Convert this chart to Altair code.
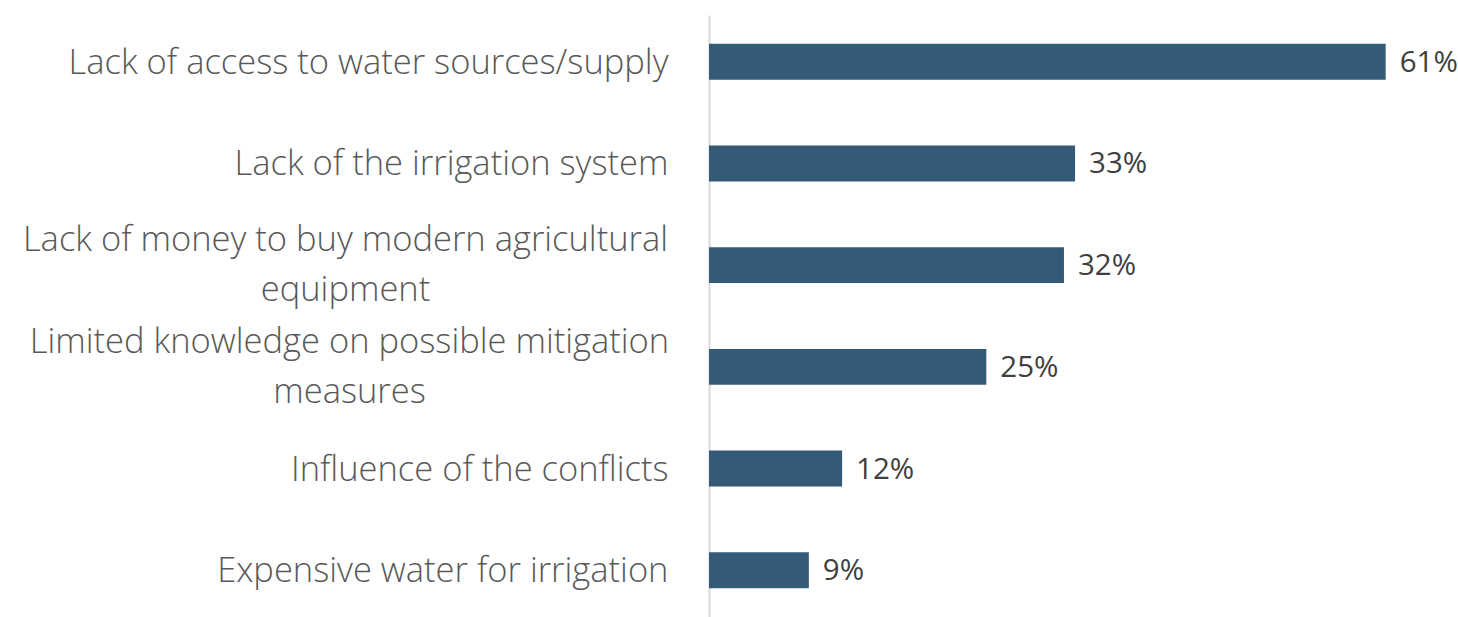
import altair as alt
import pandas as pd

categories = [
    "Lack of access to water sources/supply",
    "Lack of the irrigation system",
    "Lack of money to buy modern agricultural|equipment",
    "Limited knowledge on possible mitigation|measures",
    "Influence of the conflicts",
    "Expensive water for irrigation",
]
values = [61, 33, 32, 25, 12, 9]

df = pd.DataFrame({"cat": categories, "v": values})
df["lab"] = df["v"].astype(str) + "%"

BAR = "#335a77"
MULTI = "indexof(datum.value, '|') >= 0"

y = alt.Y(
    "cat:N",
    sort=categories,
    title=None,
    scale=alt.Scale(paddingInner=0.647, paddingOuter=0.284),
    axis=alt.Axis(
        labelExpr="split(datum.label, '|')",
        labelFont="Open Sans",
        labelFontWeight=300,
        labelFontSize=34.5,
        labelColor="#595959",
        labelLineHeight=50,
        labelAlign={"condition": {"test": MULTI, "value": "center"}, "value": "right"},
        labelPadding={
            "condition": [
                {"test": f"datum.value == '{categories[2]}'", "value": 364},
                {"test": f"datum.value == '{categories[3]}'", "value": 360},
            ],
            "value": 41,
        },
        labelOffset={"condition": {"test": MULTI, "value": -24}, "value": 2},
        labelLimit=0,
        ticks=False,
        domainColor="#d9d9d9",
        domainWidth=2,
        grid=False,
    ),
)

x = alt.X("v:Q", scale=alt.Scale(domain=[0, 66.8], nice=False), axis=None)

bars = alt.Chart(df).mark_bar(color=BAR).encode(x=x, y=y)
text = alt.Chart(df).mark_text(
    align="left", baseline="middle", dx=14, dy=1, font="Open Sans", fontSize=29.5, color="#404040"
).encode(x=x, y=alt.Y("cat:N", sort=categories), text="lab:N")

chart = (
    alt.layer(bars, text)
    .properties(
        width=741,
        height=602,
        padding={"left": 709, "top": 15, "right": 8, "bottom": 0},
        autosize=alt.AutoSizeParams(type="none"),
    )
    .configure_view(stroke=None)
)

chart.save("out.html", embed_options={"renderer": "svg", "actions": False})
